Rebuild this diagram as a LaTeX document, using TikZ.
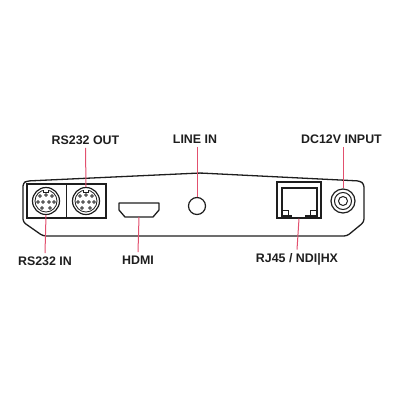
\documentclass[tikz,border=0pt]{standalone}
\usepackage{fontspec}
\setmainfont{Liberation Sans}
\usepackage{xcolor}
\usetikzlibrary{positioning}
\definecolor{leader}{HTML}{E2506E}
\definecolor{edge}{HTML}{1E1E1E}

\begin{document}
\begin{tikzpicture}[x=1pt,y=-1pt,
  every node/.style={font=\fontsize{12.4}{14}\selectfont\bfseries,text=edge},
  port/.style={draw=edge,line width=1.2pt,circle,inner sep=0pt},
  box/.style={draw=edge,line width=1.2pt,rectangle,inner sep=0pt},
  body/.style={draw=edge,line width=1.3pt,line join=round},
  leaderline/.style={draw=leader,line width=1pt}]
 \useasboundingbox (0,0) rectangle (400,400);
 % housing
 \draw[body,rounded corners=3pt] (23,222) -- (23,183) -- (27,181) -- (200,173) -- (360,181) -- (364,184) -- (364,222) -- (347,236) -- (43,236) -- cycle;
 % serial ports
 \node[box,minimum width=79pt,minimum height=34pt] (serial) at (66.5,201) {};
 \draw[edge,line width=0.8pt] (serial.north)--(serial.south);
 \node[port,minimum size=27pt] (din1) at (46,201) {};
 \node[port,minimum size=27pt] (din2) at (86,201) {};
 \foreach \d in {din1,din2} {
   \begin{scope}[shift={(\d.center)}]
     \draw[edge,line width=0.8pt] (0,0) circle (11);
     \fill[white] (-2.5,-11.6) rectangle (2.5,-9.5);
     \draw[edge,line width=0.8pt] (-2.5,-10.7) -- (-2.5,-8.8) -- (2.5,-8.8) -- (2.5,-10.7);
     \foreach \px/\py in {-6/-5,0/-6,6/-5,-8/1,-3/1,3/1,8/1,-4/7,4/7}
       \draw[edge,line width=0.6pt] (\px,\py) circle (1.4);
   \end{scope}
 }
 % hdmi
 \draw[body] (119,203) -- (159,203) -- (159,210) -- (153,217) -- (125,217) -- (119,210) -- cycle;
 \coordinate (hdmib) at (139,217);
 % line in
 \node[port,minimum size=17pt] (linein) at (197,206) {};
 % rj45
 \node[box,minimum width=44pt,minimum height=36pt,line width=1.4pt] (rj45) at (299,200) {};
 \draw[edge,line width=1.3pt] (282,188) -- (317,188) -- (317,216) -- (306,216) -- (306,217.5) -- (291,217.5) -- (291,216) -- (282,216) -- cycle;
 \draw[edge,line width=0.8pt] (282,210) -- (288,210) -- (288,216);
 \draw[edge,line width=0.8pt] (316,210) -- (310,210) -- (310,216);
 % power jack
 \node[port,minimum size=24pt] (jack) at (343,201) {};
 \draw[edge,line width=1pt] (jack.center) circle (8.5);
 \draw[edge,line width=1pt] (jack.center) circle (4.5);
 % labels
 \node (lout) at (85.5,140) {RS232 OUT};
 \node (lin) at (45,261) {RS232 IN};
 \node (lhdmi) at (138,260) {HDMI};
 \node (lline) at (195,139) {LINE IN};
 \node (ldc) at (341.5,139) {DC12V INPUT};
 \node (lrj) at (297,259) {RJ45 / NDI|HX};
 \foreach \a/\b in {lout.south/din2.north,lin.north/din1.south,lhdmi.north/hdmib,lrj.north/rj45.south}
   \draw[leaderline] (\a)--(\b);
 \draw[leaderline] (lline.south-|linein.north)--(linein.north);
 \draw[leaderline] (ldc.south-|jack.north)--(jack.north);
\end{tikzpicture}
\end{document}
